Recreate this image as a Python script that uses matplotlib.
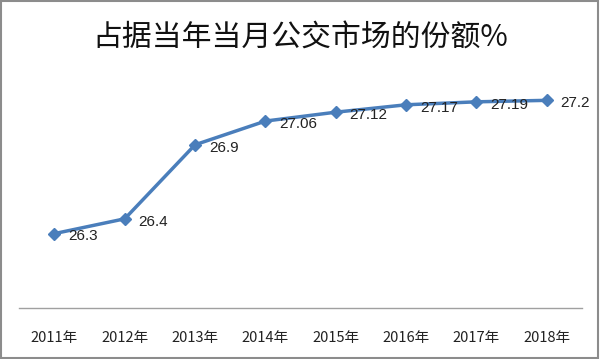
import matplotlib
matplotlib.use("Agg")
import matplotlib.pyplot as plt
from matplotlib.patches import Rectangle

plt.rcParams['font.family'] = ['Noto Sans CJK SC', 'DejaVu Sans']

years = ["2011年", "2012年", "2013年", "2014年", "2015年", "2016年", "2017年", "2018年"]
values = [26.3, 26.4, 26.9, 27.06, 27.12, 27.17, 27.19, 27.2]
labels = ["26.3", "26.4", "26.9", "27.06", "27.12", "27.17", "27.19", "27.2"]
title = "占据当年当月公交市场的份额%"

fig = plt.figure(figsize=(6, 3.59), dpi=100)
ax = fig.add_axes([0.032, 0.143, 0.938, 0.660])
x = list(range(len(years)))
ax.plot(x, values, color="#4A7EBB", linewidth=2.5, marker="D", markersize=6.5,
        markerfacecolor="#4A7EBB", markeredgecolor="#4A7EBB", zorder=3)
for xi, v, lab in zip(x, values, labels):
    ax.annotate(lab, (xi, v), xytext=(10, -2), textcoords="offset points",
                ha="left", va="center", fontsize=11, color="#222222",
                family=["Liberation Sans", "DejaVu Sans"])
ax.set_xlim(-0.5, len(years) - 0.5)
ax.set_ylim(25.8, 27.4)
ax.set_yticks([])
ax.set_xticks(x)
ax.set_xticklabels(years, fontsize=10.5, color="#222222")
ax.tick_params(axis="x", length=0, pad=17)
for s in ["top", "left", "right"]:
    ax.spines[s].set_visible(False)
ax.spines["bottom"].set_color("#A0A0A0")
ax.spines["bottom"].set_linewidth(1)

fig.text(0.5, 0.893, title, ha="center", va="center", fontsize=21.5, color="#111111")
fig.patches.append(Rectangle((0.002, 0.003), 0.995, 0.993, transform=fig.transFigure,
                             fill=False, edgecolor="#8C8C8C", linewidth=1.5))
fig.savefig("out.png", dpi=100)
